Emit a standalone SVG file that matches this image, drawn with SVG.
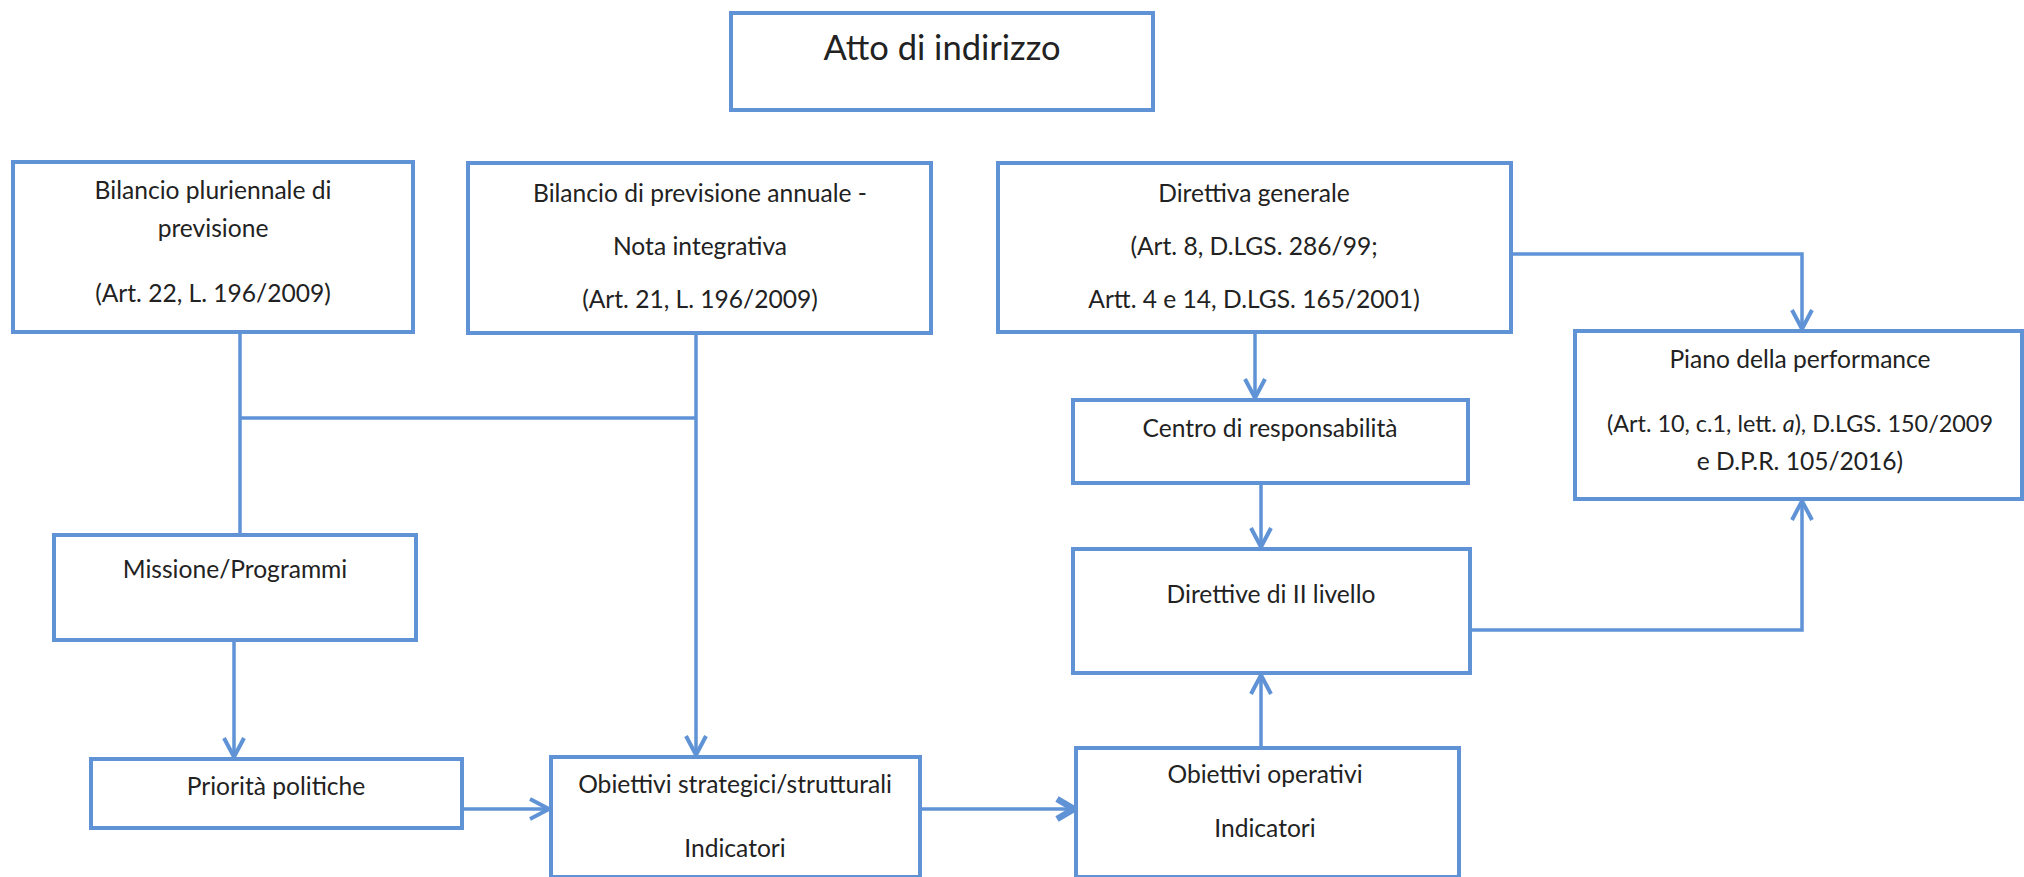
<svg xmlns="http://www.w3.org/2000/svg" width="2024" height="877" viewBox="0 0 2024 877">
<style>
.box{fill:#ffffff;stroke:#5f93d6;stroke-width:4}
.t{font-family:Lato,"Open Sans","Liberation Sans",sans-serif;font-size:24.6px;fill:#222;text-anchor:middle}
.big{font-size:34.5px}
.c{fill:none;stroke:#5f93d6;stroke-width:3.5;stroke-linejoin:miter}
</style>
<defs>
<marker id="arr" markerUnits="userSpaceOnUse" markerWidth="26" markerHeight="26" refX="21" refY="12" orient="auto">
<path d="M2,2 L21,12 L2,22" fill="none" stroke="#5f93d6" stroke-width="4"/>
</marker>
<marker id="arrB" markerUnits="userSpaceOnUse" markerWidth="26" markerHeight="28" refX="20" refY="13" orient="auto">
<path d="M3,3 L20,13 L3,23" fill="none" stroke="#5f93d6" stroke-width="6.5"/>
</marker>
</defs>
<rect width="2024" height="877" fill="#ffffff"/>
<g id="connectors">
<path class="c" d="M240,332 V535"/>
<path class="c" d="M240,418 H696"/>
<path class="c" d="M696,333 V755" marker-end="url(#arr)"/>
<path class="c" d="M234,640 V757" marker-end="url(#arr)"/>
<path class="c" d="M455,809 H549" marker-end="url(#arr)"/>
<path class="c" d="M920,809 H1074" stroke-width="5" marker-end="url(#arrB)"/>
<path class="c" d="M1255,332 V398" marker-end="url(#arr)"/>
<path class="c" d="M1261,483 V547" marker-end="url(#arr)"/>
<path class="c" d="M1261,747 V675" marker-end="url(#arr)"/>
<path class="c" d="M1511,254 H1802 V329" marker-end="url(#arr)"/>
<path class="c" d="M1470,630 H1802 V501" marker-end="url(#arr)"/>
</g>
<g id="atto">
<rect class="box" x="731" y="13" width="422" height="97"/>
<text class="t big" x="942" y="60">Atto di indirizzo</text>
</g>
<g id="bilancio-pluriennale">
<rect class="box" x="13" y="162" width="400" height="170"/>
<text class="t" x="213" y="199">Bilancio pluriennale di</text>
<text class="t" x="213" y="237">previsione</text>
<text class="t" x="213" y="302">(Art. 22, L. 196/2009)</text>
</g>
<g id="bilancio-previsione">
<rect class="box" x="468" y="163" width="463" height="170"/>
<text class="t" x="700" y="202">Bilancio di previsione annuale -</text>
<text class="t" x="700" y="255">Nota integrativa</text>
<text class="t" x="700" y="308">(Art. 21, L. 196/2009)</text>
</g>
<g id="direttiva-generale">
<rect class="box" x="998" y="163" width="513" height="169"/>
<text class="t" x="1254" y="202">Direttiva generale</text>
<text class="t" x="1254" y="255">(Art. 8, D.LGS. 286/99;</text>
<text class="t" x="1254" y="308">Artt. 4 e 14, D.LGS. 165/2001)</text>
</g>
<g id="piano-performance">
<rect class="box" x="1575" y="331" width="447" height="168"/>
<text class="t" x="1800" y="368">Piano della performance</text>
<text class="t" x="1800" y="432" style="font-size:23.4px">(Art. 10, c.1, lett. <tspan font-style="italic">a</tspan>), D.LGS. 150/2009</text>
<text class="t" x="1800" y="470">e D.P.R. 105/2016)</text>
</g>
<g id="centro-responsabilita">
<rect class="box" x="1073" y="400" width="395" height="83"/>
<text class="t" x="1270" y="437">Centro di responsabilità</text>
</g>
<g id="direttive-ii-livello">
<rect class="box" x="1073" y="549" width="397" height="124"/>
<text class="t" x="1271" y="603">Direttive di II livello</text>
</g>
<g id="missione-programmi">
<rect class="box" x="54" y="535" width="362" height="105"/>
<text class="t" x="235" y="578">Missione/Programmi</text>
</g>
<g id="priorita-politiche">
<rect class="box" x="91" y="759" width="371" height="69"/>
<text class="t" x="276" y="795">Priorità politiche</text>
</g>
<g id="obiettivi-strategici">
<rect class="box" x="551" y="757" width="369" height="120"/>
<text class="t" x="735" y="793">Obiettivi strategici/strutturali</text>
<text class="t" x="735" y="857">Indicatori</text>
</g>
<g id="obiettivi-operativi">
<rect class="box" x="1076" y="748" width="383" height="129"/>
<text class="t" x="1265" y="783">Obiettivi operativi</text>
<text class="t" x="1265" y="837">Indicatori</text>
</g>
</svg>
